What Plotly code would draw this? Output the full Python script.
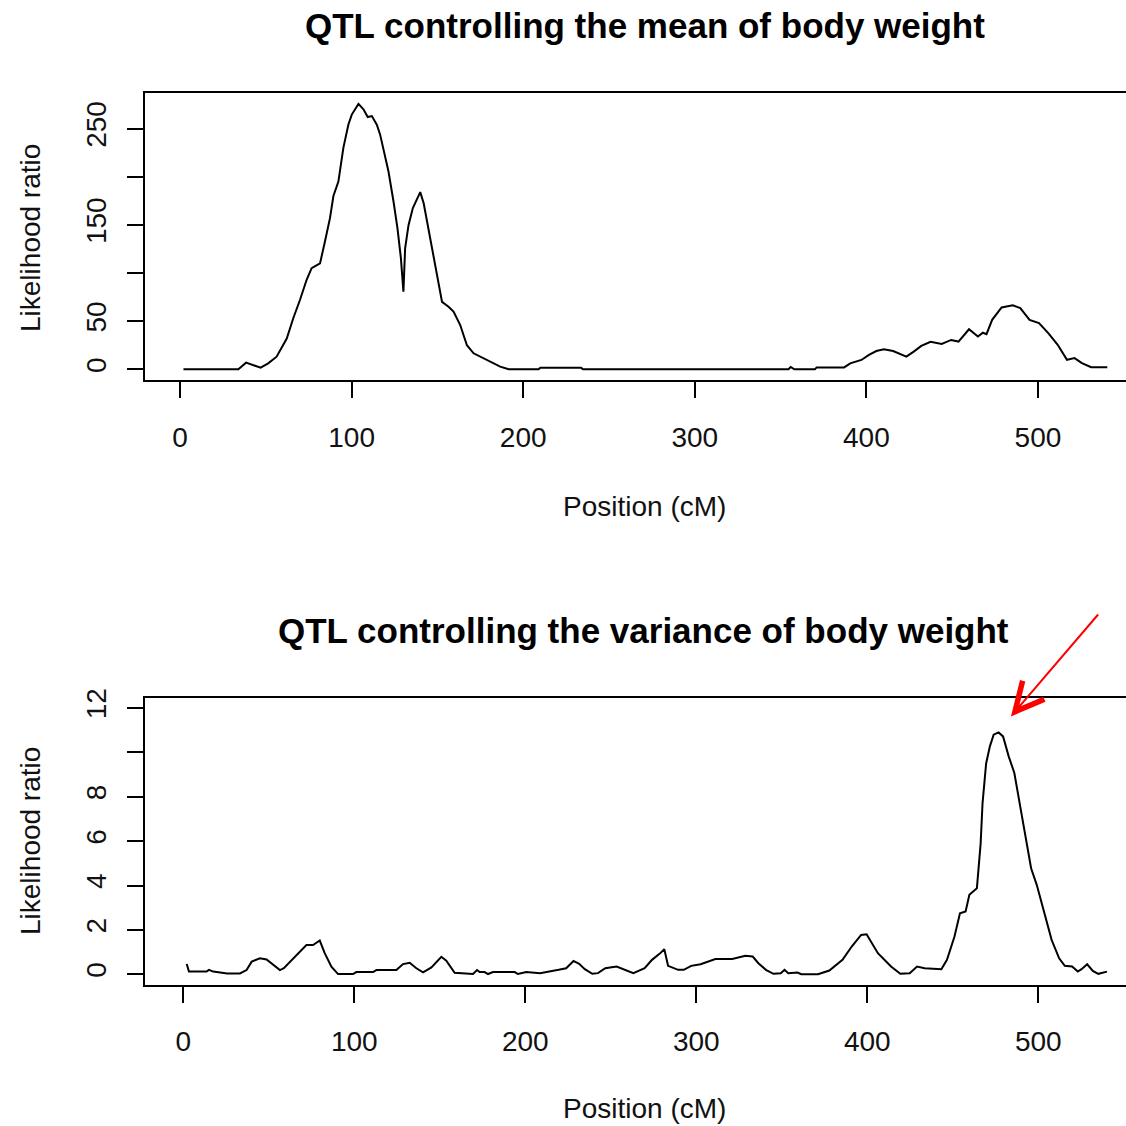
import plotly.graph_objects as go

# ---- data ----
top_pos = [2, 34, 38.5, 43.7, 47, 51.4, 56.3, 62.2, 66, 69.9, 73.8, 76.7, 81.6, 84.5, 87.4, 89.4,
           92.3, 95.2, 98.1, 100.1, 104, 106.9, 109.4, 111.8, 114.7, 116.6, 119.5, 121.5, 124.4,
           126.7, 128.7, 130.2, 131.2, 133.2, 135.7, 138, 140, 142, 145.8, 149.7, 152.7, 156.5,
           159.4, 163.3, 167.2, 171.1, 178.9, 186.6, 191.5, 209, 210, 233.7, 234.8, 354.6, 355.9,
           358, 370, 371, 387, 390.6, 397.1, 401.5, 405.8, 410.2, 415.6, 423.3, 427.6, 432, 437.4,
           443.9, 449.4, 453.7, 459.8, 465, 467.9, 470, 473.3, 478.8, 485.3, 489.7, 495.1, 500.6,
           506, 511.5, 516.9, 521.3, 525.6, 531, 540.4]
top_lr = [0, 0, 6.9, 3.8, 1.7, 6.2, 13.1, 32, 53, 72, 93, 105, 110, 133, 157, 180,
          195, 230, 254, 264.6, 275.7, 270, 262, 263, 254, 244, 223, 205.5, 174.6,
          147, 116, 80.7, 126, 150, 167.5, 176, 184, 172.5, 136, 98, 70, 65,
          60, 46, 25, 16.6, 9.7, 2.8, 0, 0, 1.7, 1.7, 0, 0, 2.4,
          0, 0, 2, 2, 6.2, 9.7, 14.9, 19, 20.8, 19, 13.2, 18.4, 24.3, 28.5,
          26.4, 30.5, 28.8, 41.6, 34, 38, 36.5, 51.4, 64.3, 66.4, 63.6, 51.4, 48,
          37.6, 25.5, 9.9, 11.6, 6.4, 2.2, 2.2]

bot_pos = [2, 3.3, 13.6, 15, 17.5, 25.7, 33.1, 37, 40, 44.8, 48.7, 52.6, 56.5, 58.8, 66.2, 72,
           75.9, 79.8, 82.7, 86.6, 90.5, 99.3, 101.2, 111, 112.9, 124.6, 128.5, 132.4, 136.3,
           140.2, 145.1, 150.9, 153.8, 158.7, 169.4, 171.8, 173.3, 176.2, 178.2, 181.1, 193.8,
           195.7, 200.6, 208.6, 219.5, 223.9, 228.2, 231.5, 234.8, 239.2, 242.5, 246.8, 253.4,
           257.8, 263.2, 269.8, 274.1, 278.5, 281.3, 283.5, 289.4, 292.7, 297, 302.5, 311.2, 321,
           328.7, 333, 336.3, 340.7, 345.1, 349.4, 351.6, 353.8, 359.2, 361.4, 371.2, 377.8,
           385.5, 390.9, 396.4, 399.6, 402.9, 406.2, 413.9, 419.3, 424.8, 429.1, 433.5, 443.3,
           446.6, 451, 454.2, 457.5, 459.7, 461.9, 464.1, 466.3, 467.4, 469.5, 471.7, 473.9,
           476.8, 479.4, 482.7, 486, 490.3, 493.6, 495.8, 499.1, 503.4, 507.8, 512.2, 515.5,
           519.8, 523.1, 525.3, 528.6, 531.9, 535.1, 540.2]
bot_lr = [0.46, 0.12, 0.12, 0.2, 0.12, 0.04, 0.04, 0.19, 0.57, 0.72, 0.67, 0.42, 0.19, 0.27, 0.87, 1.32,
          1.32, 1.52, 0.95, 0.34, 0.01, 0.01, 0.1, 0.1, 0.19, 0.19, 0.46, 0.52, 0.27,
          0.09, 0.31, 0.79, 0.61, 0.07, 0.01, 0.19, 0.1, 0.1, 0.01, 0.1, 0.1,
          0.01, 0.1, 0.05, 0.2, 0.27, 0.6, 0.47, 0.23, 0.02, 0.05, 0.27, 0.35,
          0.23, 0.05, 0.27, 0.65, 0.92, 1.13, 0.38, 0.2, 0.2, 0.38, 0.45, 0.69, 0.69,
          0.83, 0.8, 0.5, 0.2, 0.02, 0.05, 0.2, 0.05, 0.08, 0, 0, 0.17,
          0.65, 1.25, 1.77, 1.8, 1.4, 0.95, 0.35, 0.02, 0.05, 0.35, 0.27, 0.23,
          0.65, 1.7, 2.75, 2.83, 3.58, 3.73, 3.88, 5.9, 7.7, 9.5, 10.27, 10.8,
          10.9, 10.72, 9.82, 9.07, 7.26, 5.76, 4.78, 4.03, 2.75, 1.55, 0.72, 0.38,
          0.35, 0.12, 0.23, 0.45, 0.15, 0.02, 0.12]

x_tick_vals = [0, 100, 200, 300, 400, 500]
x_tick_text = ["0", "100", "200", "300", "400", "500"]
top_y_tick_vals = [0, 50, 100, 150, 200, 250]
top_y_tick_text = ["0", "50", "", "150", "", "250"]
bot_y_tick_vals = [0, 2, 4, 6, 8, 10, 12]
bot_y_tick_text = ["0", "2", "4", "6", "8", "", "12"]

title_top = "QTL controlling the mean of body weight"
title_bot = "QTL controlling the variance of body weight"
x_title = "Position (cM)"
y_title = "Likelihood ratio"

W = H = 1126
FONT = "Liberation Sans, Arial, sans-serif"

def px_x(p):
    return p / W

def px_y(p):
    return 1 - p / H

fig = go.Figure()
fig.add_trace(go.Scatter(x=top_pos, y=top_lr, mode="lines",
                         line=dict(color="black", width=2), xaxis="x", yaxis="y",
                         showlegend=False))
fig.add_trace(go.Scatter(x=bot_pos, y=bot_lr, mode="lines",
                         line=dict(color="black", width=2), xaxis="x2", yaxis="y2",
                         showlegend=False))

axis_common = dict(showgrid=False, zeroline=False, showline=True, linecolor="black",
                   linewidth=2, ticks="outside", ticklen=16, tickwidth=2, tickcolor="black",
                   tickfont=dict(family=FONT, size=28, color="#111111"), automargin=False)

fig.update_layout(
    width=W, height=H, autosize=False,
    margin=dict(l=0, r=0, t=0, b=0),
    paper_bgcolor="white", plot_bgcolor="white",
    template="none",
    xaxis=dict(domain=[px_x(145), 1.0], range=[-20.4, 551.3], anchor="y",
               tickvals=x_tick_vals, ticktext=x_tick_text, mirror=True,
               ticklabelstandoff=16, **axis_common),
    yaxis=dict(domain=[px_y(379.7), px_y(93)], range=[-10.8, 287], anchor="x",
               tickvals=top_y_tick_vals, ticktext=top_y_tick_text, tickangle=-90,
               ticklabelstandoff=10, **axis_common),
    xaxis2=dict(domain=[px_x(145), 1.0], range=[-22.4, 551.3], anchor="y2",
                tickvals=x_tick_vals, ticktext=x_tick_text, mirror=True,
                ticklabelstandoff=15, **axis_common),
    yaxis2=dict(domain=[px_y(984.7), px_y(698)], range=[-0.47, 12.45], anchor="x2",
                tickvals=bot_y_tick_vals, ticktext=bot_y_tick_text, tickangle=-90,
                ticklabelstandoff=10, **axis_common),
)

ann = []
tfont = dict(family=FONT, size=35, color="black")
lfont = dict(family=FONT, size=28, color="#111111")
ann.append(dict(text="<b>" + title_top + "</b>", x=px_x(645), y=px_y(25), xref="paper", yref="paper",
                xanchor="center", yanchor="middle", showarrow=False, font=tfont))
ann.append(dict(text="<b>" + title_bot + "</b>", x=px_x(643), y=px_y(630), xref="paper", yref="paper",
                xanchor="center", yanchor="middle", showarrow=False, font=tfont))
ann.append(dict(text=x_title, x=px_x(644), y=px_y(506), xref="paper", yref="paper",
                xanchor="center", yanchor="middle", showarrow=False, font=lfont))
ann.append(dict(text=x_title, x=px_x(644), y=px_y(1108), xref="paper", yref="paper",
                xanchor="center", yanchor="middle", showarrow=False, font=lfont))
ann.append(dict(text=y_title, x=px_x(30), y=px_y(238), xref="paper", yref="paper", textangle=-90,
                xanchor="center", yanchor="middle", showarrow=False, font=lfont))
ann.append(dict(text=y_title, x=px_x(30), y=px_y(841), xref="paper", yref="paper", textangle=-90,
                xanchor="center", yanchor="middle", showarrow=False, font=lfont))
# red arrow pointing at the variance peak
ann.append(dict(text="", x=484, y=11.62, xref="x2", yref="y2", showarrow=True,
                ax=88.5, ay=-103.4, arrowcolor="red", arrowwidth=2, arrowhead=5,
                arrowsize=2.8, standoff=0))
fig.update_layout(annotations=ann)

fig.write_html("out.html")
